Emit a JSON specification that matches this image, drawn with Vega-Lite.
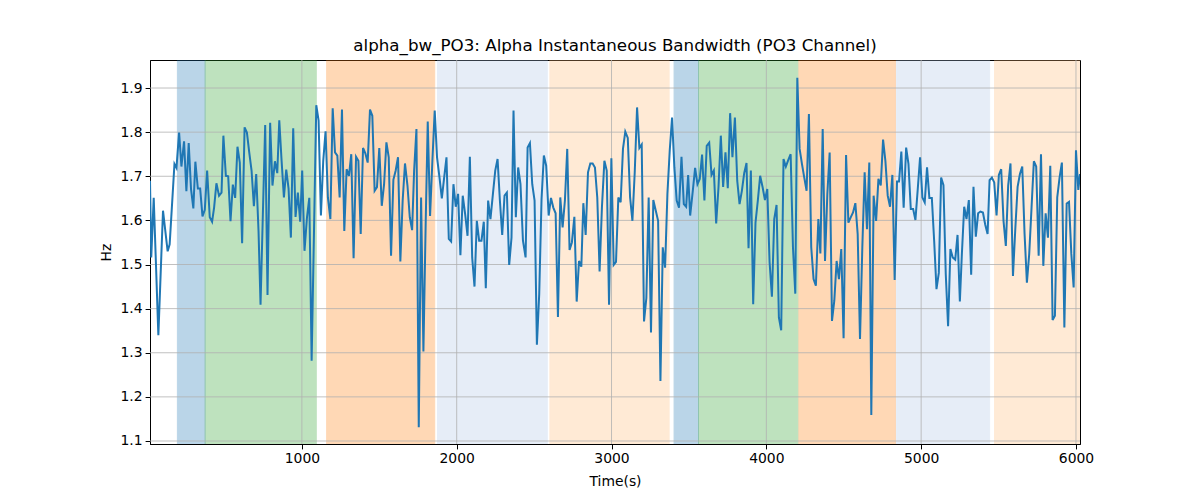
{
  "$schema": "https://vega.github.io/schema/vega-lite/v6.json",
  "width": 930,
  "height": 384,
  "autosize": {"type": "none"},
  "padding": {"left": 150, "top": 60, "right": 120, "bottom": 56},
  "title": {"text": "alpha_bw_PO3: Alpha Instantaneous Bandwidth (PO3 Channel)", "fontSize": 16.7, "fontWeight": "normal", "font": "DejaVu Sans", "color": "black", "offset": 5},
  "config": {
    "font": "DejaVu Sans",
    "view": {"stroke": "black", "strokeWidth": 1},
    "axis": {"labelFont": "DejaVu Sans", "titleFont": "DejaVu Sans", "labelFontSize": 13.9, "titleFontSize": 13.9, "titleFontWeight": "normal", "labelColor": "black", "titleColor": "black", "tickColor": "black", "domainColor": "black", "tickSize": 4.9, "labelPadding": 3, "grid": false}
  },
  "datasets": {
    "bands": [
      {"s": 196, "e": 375, "b": "b1"},
      {"s": 375, "e": 1093, "b": "g"},
      {"s": 1160, "e": 1858, "b": "o"},
      {"s": 1876, "e": 2585, "b": "lb"},
      {"s": 2602, "e": 3372, "b": "lo"},
      {"s": 3404, "e": 3562, "b": "b1"},
      {"s": 3562, "e": 4204, "b": "g"},
      {"s": 4210, "e": 4834, "b": "o"},
      {"s": 4840, "e": 5442, "b": "lb"},
      {"s": 5474, "e": 6026, "b": "lo"}
    ],
    "ygrid": [{"y": 1.1}, {"y": 1.2}, {"y": 1.3}, {"y": 1.4}, {"y": 1.5}, {"y": 1.6}, {"y": 1.7}, {"y": 1.8}, {"y": 1.9}],
    "xgrid": [{"x": 1000}, {"x": 2000}, {"x": 3000}, {"x": 4000}, {"x": 5000}, {"x": 6000}],
    "series": [
      {"t":19,"v":1.690},{"t":27,"v":1.516},{"t":43,"v":1.651},{"t":73,"v":1.340},{"t":103,"v":1.622},{"t":133,"v":1.530},{"t":146,"v":1.546},{"t":177,"v":1.728},{"t":190,"v":1.719},{"t":207,"v":1.799},
      {"t":222,"v":1.722},{"t":239,"v":1.779},{"t":254,"v":1.666},{"t":269,"v":1.775},{"t":284,"v":1.671},{"t":299,"v":1.627},{"t":312,"v":1.733},{"t":328,"v":1.672},{"t":343,"v":1.672},{"t":358,"v":1.609},
      {"t":373,"v":1.624},{"t":388,"v":1.713},{"t":405,"v":1.607},{"t":420,"v":1.597},{"t":433,"v":1.629},{"t":448,"v":1.684},{"t":465,"v":1.656},{"t":481,"v":1.663},{"t":493,"v":1.792},{"t":509,"v":1.701},
      {"t":524,"v":1.700},{"t":539,"v":1.598},{"t":554,"v":1.681},{"t":569,"v":1.651},{"t":584,"v":1.767},{"t":599,"v":1.731},{"t":614,"v":1.548},{"t":630,"v":1.811},{"t":645,"v":1.799},{"t":660,"v":1.754},
      {"t":675,"v":1.713},{"t":690,"v":1.632},{"t":705,"v":1.705},{"t":720,"v":1.576},{"t":733,"v":1.409},{"t":748,"v":1.614},{"t":763,"v":1.816},{"t":778,"v":1.431},{"t":795,"v":1.821},{"t":810,"v":1.679},
      {"t":826,"v":1.734},{"t":841,"v":1.707},{"t":854,"v":1.827},{"t":869,"v":1.735},{"t":884,"v":1.652},{"t":899,"v":1.715},{"t":914,"v":1.672},{"t":929,"v":1.561},{"t":944,"v":1.809},{"t":959,"v":1.608},
      {"t":974,"v":1.663},{"t":989,"v":1.597},{"t":1002,"v":1.713},{"t":1017,"v":1.531},{"t":1033,"v":1.607},{"t":1048,"v":1.651},{"t":1063,"v":1.282},{"t":1078,"v":1.570},{"t":1093,"v":1.861},{"t":1108,"v":1.826},
      {"t":1123,"v":1.611},{"t":1138,"v":1.735},{"t":1153,"v":1.802},{"t":1168,"v":1.652},{"t":1184,"v":1.603},{"t":1199,"v":1.854},{"t":1214,"v":1.754},{"t":1229,"v":1.747},{"t":1244,"v":1.652},{"t":1259,"v":1.851},
      {"t":1274,"v":1.576},{"t":1289,"v":1.716},{"t":1304,"v":1.701},{"t":1319,"v":1.750},{"t":1334,"v":1.514},{"t":1350,"v":1.744},{"t":1365,"v":1.735},{"t":1380,"v":1.569},{"t":1395,"v":1.764},{"t":1410,"v":1.752},
      {"t":1425,"v":1.731},{"t":1440,"v":1.851},{"t":1455,"v":1.837},{"t":1470,"v":1.667},{"t":1485,"v":1.675},{"t":1500,"v":1.764},{"t":1516,"v":1.633},{"t":1531,"v":1.682},{"t":1546,"v":1.777},{"t":1561,"v":1.743},
      {"t":1576,"v":1.520},{"t":1591,"v":1.692},{"t":1606,"v":1.713},{"t":1621,"v":1.743},{"t":1636,"v":1.507},{"t":1651,"v":1.645},{"t":1666,"v":1.729},{"t":1682,"v":1.679},{"t":1697,"v":1.607},{"t":1712,"v":1.578},
      {"t":1725,"v":1.713},{"t":1740,"v":1.807},{"t":1755,"v":1.131},{"t":1770,"v":1.652},{"t":1785,"v":1.303},{"t":1800,"v":1.600},{"t":1813,"v":1.824},{"t":1828,"v":1.610},{"t":1843,"v":1.735},{"t":1858,"v":1.849},
      {"t":1873,"v":1.743},{"t":1889,"v":1.697},{"t":1904,"v":1.650},{"t":1919,"v":1.697},{"t":1934,"v":1.743},{"t":1949,"v":1.558},{"t":1964,"v":1.552},{"t":1979,"v":1.682},{"t":1994,"v":1.631},{"t":2009,"v":1.660},
      {"t":2024,"v":1.521},{"t":2039,"v":1.656},{"t":2055,"v":1.613},{"t":2070,"v":1.565},{"t":2085,"v":1.744},{"t":2100,"v":1.516},{"t":2115,"v":1.450},{"t":2130,"v":1.599},{"t":2145,"v":1.554},{"t":2160,"v":1.554},
      {"t":2175,"v":1.597},{"t":2188,"v":1.446},{"t":2203,"v":1.645},{"t":2218,"v":1.603},{"t":2234,"v":1.660},{"t":2249,"v":1.713},{"t":2264,"v":1.739},{"t":2279,"v":1.645},{"t":2294,"v":1.567},{"t":2309,"v":1.656},
      {"t":2324,"v":1.663},{"t":2339,"v":1.499},{"t":2354,"v":1.561},{"t":2367,"v":1.849},{"t":2382,"v":1.607},{"t":2397,"v":1.720},{"t":2412,"v":1.682},{"t":2428,"v":1.554},{"t":2445,"v":1.516},{"t":2458,"v":1.765},
      {"t":2473,"v":1.775},{"t":2488,"v":1.682},{"t":2503,"v":1.645},{"t":2518,"v":1.318},{"t":2533,"v":1.433},{"t":2548,"v":1.648},{"t":2563,"v":1.747},{"t":2578,"v":1.724},{"t":2594,"v":1.611},{"t":2609,"v":1.651},
      {"t":2624,"v":1.629},{"t":2639,"v":1.616},{"t":2654,"v":1.381},{"t":2669,"v":1.652},{"t":2684,"v":1.584},{"t":2699,"v":1.645},{"t":2714,"v":1.762},{"t":2729,"v":1.533},{"t":2744,"v":1.550},{"t":2760,"v":1.608},
      {"t":2775,"v":1.416},{"t":2790,"v":1.508},{"t":2805,"v":1.495},{"t":2818,"v":1.639},{"t":2833,"v":1.567},{"t":2848,"v":1.709},{"t":2863,"v":1.729},{"t":2878,"v":1.729},{"t":2893,"v":1.720},{"t":2908,"v":1.652},
      {"t":2923,"v":1.484},{"t":2938,"v":1.629},{"t":2954,"v":1.735},{"t":2969,"v":1.713},{"t":2984,"v":1.409},{"t":2999,"v":1.741},{"t":3014,"v":1.499},{"t":3029,"v":1.506},{"t":3044,"v":1.652},{"t":3059,"v":1.641},
      {"t":3074,"v":1.762},{"t":3089,"v":1.801},{"t":3105,"v":1.787},{"t":3120,"v":1.652},{"t":3135,"v":1.599},{"t":3150,"v":1.709},{"t":3165,"v":1.856},{"t":3180,"v":1.764},{"t":3195,"v":1.772},{"t":3210,"v":1.371},
      {"t":3225,"v":1.424},{"t":3240,"v":1.652},{"t":3255,"v":1.346},{"t":3270,"v":1.646},{"t":3286,"v":1.622},{"t":3301,"v":1.599},{"t":3316,"v":1.236},{"t":3331,"v":1.539},{"t":3346,"v":1.493},{"t":3361,"v":1.660},
      {"t":3376,"v":1.758},{"t":3391,"v":1.833},{"t":3406,"v":1.720},{"t":3421,"v":1.645},{"t":3436,"v":1.629},{"t":3452,"v":1.744},{"t":3467,"v":1.637},{"t":3482,"v":1.631},{"t":3495,"v":1.703},{"t":3508,"v":1.611},
      {"t":3525,"v":1.667},{"t":3540,"v":1.719},{"t":3555,"v":1.682},{"t":3570,"v":1.694},{"t":3585,"v":1.749},{"t":3600,"v":1.645},{"t":3615,"v":1.769},{"t":3631,"v":1.776},{"t":3646,"v":1.703},{"t":3661,"v":1.713},
      {"t":3676,"v":1.593},{"t":3691,"v":1.675},{"t":3706,"v":1.792},{"t":3721,"v":1.676},{"t":3736,"v":1.754},{"t":3751,"v":1.673},{"t":3766,"v":1.843},{"t":3781,"v":1.743},{"t":3797,"v":1.833},{"t":3812,"v":1.690},
      {"t":3827,"v":1.637},{"t":3842,"v":1.667},{"t":3857,"v":1.707},{"t":3872,"v":1.730},{"t":3885,"v":1.537},{"t":3900,"v":1.713},{"t":3915,"v":1.410},{"t":3930,"v":1.595},{"t":3945,"v":1.645},{"t":3960,"v":1.701},
      {"t":3976,"v":1.675},{"t":3991,"v":1.646},{"t":4006,"v":1.671},{"t":4021,"v":1.505},{"t":4036,"v":1.427},{"t":4051,"v":1.603},{"t":4066,"v":1.635},{"t":4081,"v":1.380},{"t":4096,"v":1.351},{"t":4111,"v":1.739},
      {"t":4126,"v":1.722},{"t":4142,"v":1.737},{"t":4157,"v":1.750},{"t":4172,"v":1.539},{"t":4187,"v":1.434},{"t":4200,"v":1.923},{"t":4215,"v":1.762},{"t":4230,"v":1.728},{"t":4245,"v":1.697},{"t":4260,"v":1.667},
      {"t":4275,"v":1.841},{"t":4290,"v":1.539},{"t":4305,"v":1.467},{"t":4320,"v":1.452},{"t":4336,"v":1.603},{"t":4349,"v":1.525},{"t":4364,"v":1.807},{"t":4379,"v":1.508},{"t":4394,"v":1.660},{"t":4409,"v":1.754},
      {"t":4424,"v":1.372},{"t":4439,"v":1.418},{"t":4454,"v":1.508},{"t":4469,"v":1.467},{"t":4484,"v":1.535},{"t":4499,"v":1.333},{"t":4515,"v":1.748},{"t":4530,"v":1.595},{"t":4545,"v":1.607},{"t":4560,"v":1.618},
      {"t":4575,"v":1.639},{"t":4590,"v":1.569},{"t":4605,"v":1.331},{"t":4620,"v":1.539},{"t":4635,"v":1.709},{"t":4650,"v":1.580},{"t":4665,"v":1.731},{"t":4678,"v":1.159},{"t":4693,"v":1.656},{"t":4709,"v":1.599},
      {"t":4724,"v":1.694},{"t":4739,"v":1.679},{"t":4754,"v":1.783},{"t":4769,"v":1.735},{"t":4784,"v":1.656},{"t":4799,"v":1.631},{"t":4814,"v":1.703},{"t":4829,"v":1.465},{"t":4844,"v":1.688},{"t":4857,"v":1.688},
      {"t":4872,"v":1.756},{"t":4887,"v":1.629},{"t":4903,"v":1.765},{"t":4918,"v":1.728},{"t":4933,"v":1.626},{"t":4948,"v":1.626},{"t":4963,"v":1.601},{"t":4978,"v":1.671},{"t":4993,"v":1.743},{"t":5008,"v":1.652},
      {"t":5023,"v":1.641},{"t":5038,"v":1.720},{"t":5053,"v":1.651},{"t":5069,"v":1.651},{"t":5084,"v":1.554},{"t":5099,"v":1.444},{"t":5114,"v":1.481},{"t":5129,"v":1.697},{"t":5144,"v":1.680},{"t":5159,"v":1.478},
      {"t":5174,"v":1.360},{"t":5189,"v":1.535},{"t":5204,"v":1.516},{"t":5220,"v":1.511},{"t":5235,"v":1.567},{"t":5250,"v":1.416},{"t":5263,"v":1.524},{"t":5278,"v":1.631},{"t":5293,"v":1.603},{"t":5308,"v":1.646},
      {"t":5323,"v":1.477},{"t":5338,"v":1.676},{"t":5353,"v":1.563},{"t":5368,"v":1.616},{"t":5383,"v":1.620},{"t":5399,"v":1.618},{"t":5414,"v":1.590},{"t":5429,"v":1.569},{"t":5442,"v":1.691},{"t":5457,"v":1.697},
      {"t":5472,"v":1.686},{"t":5487,"v":1.611},{"t":5502,"v":1.703},{"t":5517,"v":1.716},{"t":5532,"v":1.599},{"t":5547,"v":1.542},{"t":5562,"v":1.679},{"t":5577,"v":1.729},{"t":5593,"v":1.474},{"t":5608,"v":1.580},
      {"t":5623,"v":1.676},{"t":5638,"v":1.705},{"t":5653,"v":1.722},{"t":5668,"v":1.569},{"t":5683,"v":1.459},{"t":5698,"v":1.524},{"t":5713,"v":1.629},{"t":5728,"v":1.734},{"t":5743,"v":1.722},{"t":5759,"v":1.520},
      {"t":5774,"v":1.750},{"t":5789,"v":1.497},{"t":5804,"v":1.616},{"t":5819,"v":1.561},{"t":5834,"v":1.724},{"t":5849,"v":1.374},{"t":5864,"v":1.384},{"t":5879,"v":1.652},{"t":5894,"v":1.697},{"t":5909,"v":1.731},
      {"t":5925,"v":1.357},{"t":5940,"v":1.638},{"t":5955,"v":1.642},{"t":5970,"v":1.524},{"t":5985,"v":1.448},{"t":6000,"v":1.759},{"t":6015,"v":1.669},{"t":6026,"v":1.705}
    ]
  },
  "layer": [
    {
      "data": {"name": "bands"},
      "mark": {"type": "rect", "opacity": 0.3, "strokeWidth": 1, "clip": true},
      "encoding": {
        "x": {"field": "s", "type": "quantitative", "scale": {"domain": [19, 6026], "nice": false, "zero": false}, "axis": {"title": "Time(s)", "values": [1000, 2000, 3000, 4000, 5000, 6000], "format": "d", "titlePadding": 9}},
        "x2": {"field": "e"},
        "color": {"field": "b", "type": "nominal", "scale": {"domain": ["b1", "g", "o", "lb", "lo"], "range": ["#1f77b4", "#2ca02c", "#ff7f0e", "#aec7e8", "#ffbb78"]}, "legend": null},
        "stroke": {"field": "b", "type": "nominal", "scale": {"domain": ["b1", "g", "o", "lb", "lo"], "range": ["#1f77b4", "#2ca02c", "#ff7f0e", "#aec7e8", "#ffbb78"]}, "legend": null}
      }
    },
    {
      "data": {"name": "ygrid"},
      "mark": {"type": "rule", "color": "#b0b0b0", "strokeWidth": 0.8},
      "encoding": {
        "y": {"field": "y", "type": "quantitative"}
      }
    },
    {
      "data": {"name": "xgrid"},
      "mark": {"type": "rule", "color": "#b0b0b0", "strokeWidth": 0.8},
      "encoding": {
        "x": {"field": "x", "type": "quantitative"}
      }
    },
    {
      "data": {"name": "series"},
      "mark": {"type": "line", "color": "#1f77b4", "strokeWidth": 2, "clip": true},
      "encoding": {
        "x": {"field": "t", "type": "quantitative"},
        "y": {"field": "v", "type": "quantitative", "scale": {"domain": [1.0932, 1.9635], "nice": false, "zero": false}, "axis": {"title": "Hz", "values": [1.1, 1.2, 1.3, 1.4, 1.5, 1.6, 1.7, 1.8, 1.9], "format": ".1f", "titlePadding": 7}}
      }
    }
  ]
}
